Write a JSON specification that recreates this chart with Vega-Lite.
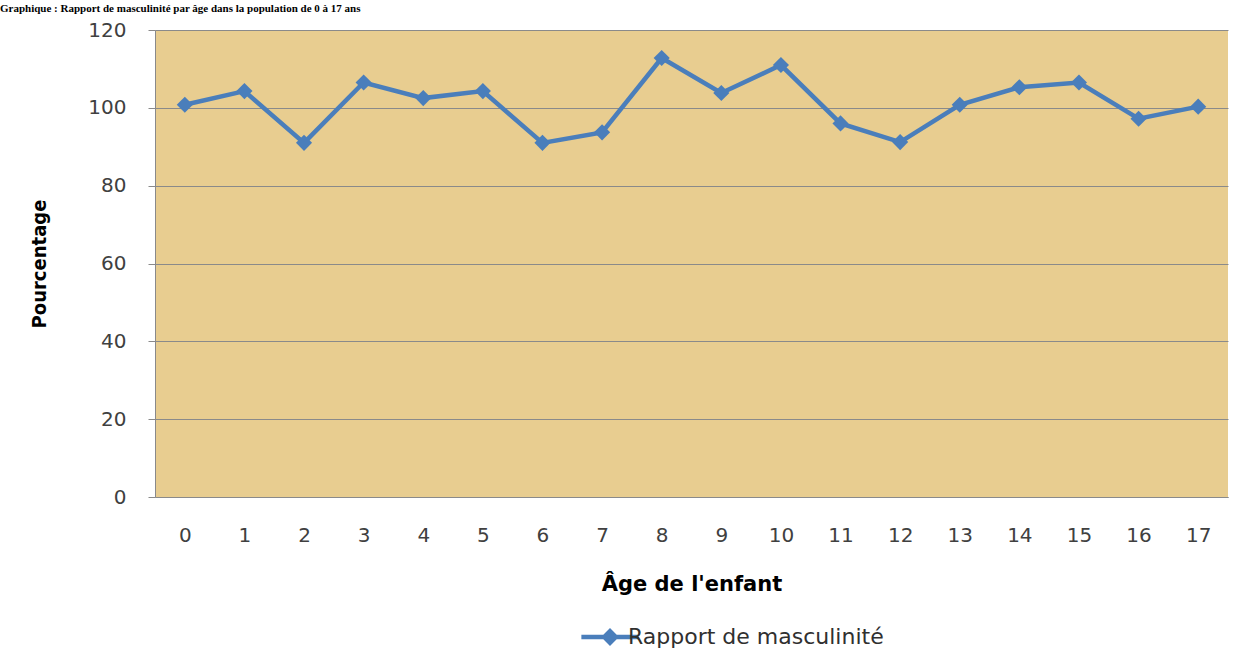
{
  "$schema": "https://vega.github.io/schema/vega-lite/v6.json",
  "autosize": {"type": "none"},
  "width": 1073,
  "height": 467,
  "padding": {"left": 155, "top": 30, "right": 8, "bottom": 152},
  "background": "white",
  "title": {
    "text": "Graphique : Rapport de masculinité par âge dans la population de 0 à 17 ans",
    "anchor": "start",
    "frame": "group",
    "dx": -155,
    "dy": -4,
    "offset": 2,
    "font": "Liberation Serif",
    "fontSize": 11,
    "fontWeight": "bold",
    "color": "black"
  },
  "config": {
    "view": {"fill": "#e8cd90", "stroke": null},
    "axis": {
      "labelFont": "DejaVu Sans",
      "labelFontSize": 20,
      "labelColor": "#404040",
      "titleColor": "black",
      "domainColor": "#8a8a8a",
      "tickColor": "#8a8a8a",
      "gridColor": "#8a8a8a",
      "gridWidth": 1
    }
  },
  "data": {
    "values": [
      {"age": "0", "v": 100.8},
      {"age": "1", "v": 104.3},
      {"age": "2", "v": 91.0},
      {"age": "3", "v": 106.5},
      {"age": "4", "v": 102.5},
      {"age": "5", "v": 104.3},
      {"age": "6", "v": 91.0},
      {"age": "7", "v": 93.7},
      {"age": "8", "v": 112.8},
      {"age": "9", "v": 103.8},
      {"age": "10", "v": 111.0},
      {"age": "11", "v": 96.0},
      {"age": "12", "v": 91.2},
      {"age": "13", "v": 100.8},
      {"age": "14", "v": 105.3},
      {"age": "15", "v": 106.5},
      {"age": "16", "v": 97.2},
      {"age": "17", "v": 100.3}
    ]
  },
  "encoding": {
    "x": {
      "field": "age",
      "type": "ordinal",
      "sort": null,
      "scale": {"type": "point", "padding": 0.5},
      "axis": {
        "title": "Âge de l'enfant",
        "titleFont": "DejaVu Sans",
        "titleFontSize": 21,
        "titleFontWeight": "bold",
        "titlePadding": 28,
        "labelAngle": 0,
        "labelPadding": 28,
        "ticks": false,
        "grid": false,
        "domain": true
      }
    },
    "y": {
      "field": "v",
      "type": "quantitative",
      "scale": {"domain": [0, 120]},
      "axis": {
        "title": "Pourcentage",
        "titleFont": "DejaVu Sans Condensed",
        "titleFontSize": 20,
        "titleFontWeight": "bold",
        "titlePadding": 38,
        "values": [0, 20, 40, 60, 80, 100, 120],
        "labelPadding": 22,
        "tickSize": 7,
        "grid": true
      }
    },
    "color": {
      "datum": "Rapport de masculinité",
      "type": "nominal",
      "scale": {"range": ["#4a7ebb"]},
      "legend": {
        "title": null,
        "orient": "none",
        "legendX": 437,
        "legendY": 589,
        "labelFont": "DejaVu Sans",
        "labelFontSize": 22,
        "labelLimit": 0,
        "labelColor": "#303030",
        "symbolType": "M-1.6,-0.12L1.6,-0.12L1.6,0.12L-1.6,0.12Z M0,-0.5L0.5,0L0,0.5L-0.5,0Z",
        "symbolSize": 1280,
        "symbolStrokeWidth": 0,
        "symbolFillColor": "#4a7ebb",
        "symbolOpacity": 1,
        "labelOffset": 0
      }
    }
  },
  "layer": [
    {"mark": {"type": "line", "strokeWidth": 4.5}},
    {"mark": {"type": "point", "shape": "diamond", "filled": true, "size": 260, "opacity": 1}}
  ]
}
